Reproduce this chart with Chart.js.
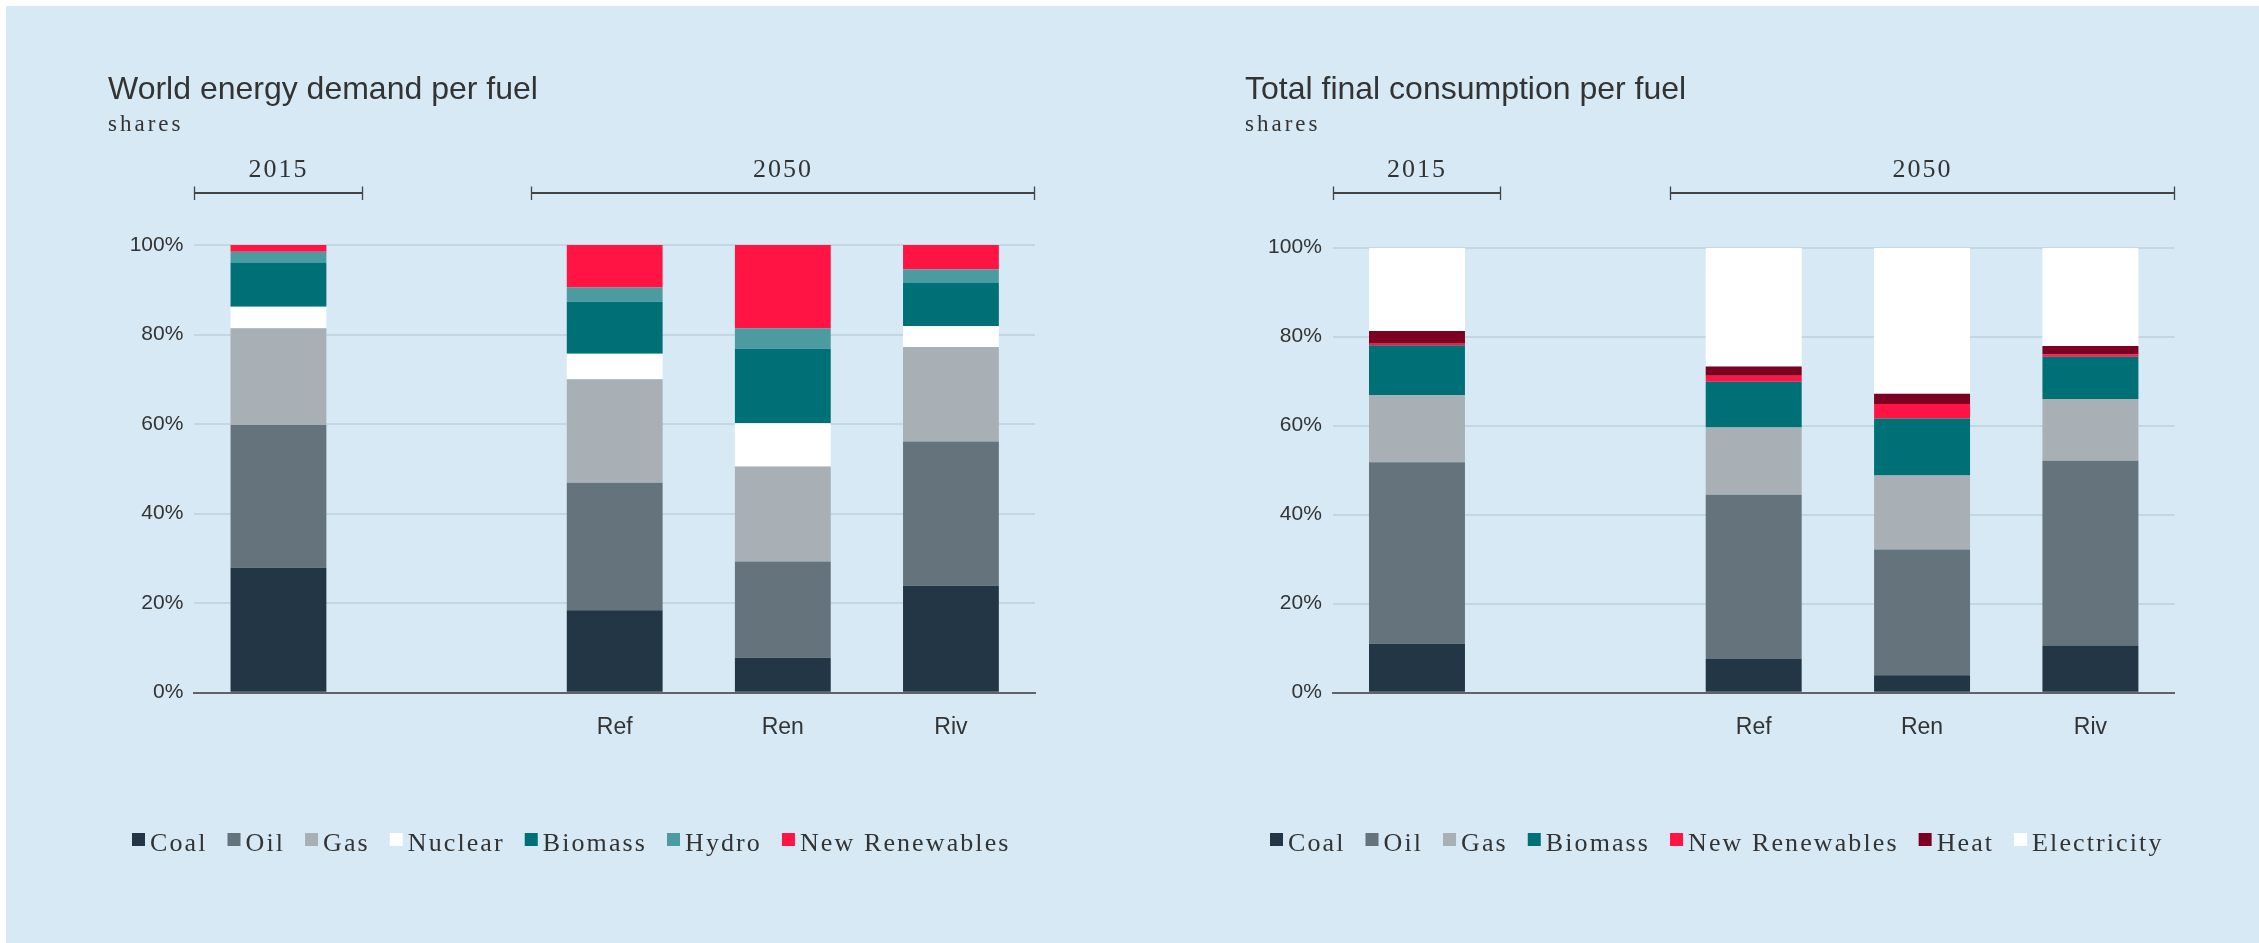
<!DOCTYPE html>
<html>
<head>
<meta charset="utf-8">
<title>World energy demand and total final consumption per fuel</title>
<script src="https://cdn.jsdelivr.net/npm/chart.js@4.4.1/dist/chart.umd.min.js"></script>
<style>
  html, body { margin: 0; padding: 0; background: #fff; }
  body { width: 2259px; height: 943px; position: relative; overflow: hidden; }
  #panel { position: absolute; left: 6px; top: 6px; right: 0; bottom: 0; background: #d6e9f4; }
  .box { position: absolute; top: 0; height: 943px; }
  #leftBox { left: 0; width: 1129px; }
  #rightBox { left: 1129px; width: 1130px; }
</style>
</head>
<body>
<div id="panel"></div>
<div class="box" id="leftBox"><canvas id="demandChart"></canvas></div>
<div class="box" id="rightBox"><canvas id="tfcChart"></canvas></div>
<script>
// x slots: the 2015 bar, an empty gap, then the three 2050 scenarios
var categories = ["2015", "", "Ref", "Ren", "Riv"];
var tickLabels = ["", "", "Ref", "Ren", "Riv"];
var yTicks = [0, 20, 40, 60, 80, 100];
var groupLabels = ["2015", "2050"];
var groupFirst = [0, 2];
var groupLast = [0, 4];

// world energy demand, shares in %
var demandCoal = [27.9, null, 18.4, 7.8, 23.9];
var demandOil = [31.9, null, 28.5, 21.5, 32.2];
var demandGas = [21.6, null, 23.1, 21.2, 21.1];
var demandNuclear = [4.8, null, 5.7, 9.7, 4.7];
var demandBiomass = [9.9, null, 11.6, 16.6, 9.7];
var demandHydro = [2.4, null, 3.2, 4.6, 3.0];
var demandNewRen = [1.5, null, 9.5, 18.6, 5.4];

// total final consumption, shares in %
var tfcCoal = [11.0, null, 7.6, 3.9, 10.6];
var tfcOil = [40.8, null, 36.9, 28.3, 41.5];
var tfcGas = [15.1, null, 15.1, 16.6, 13.9];
var tfcBiomass = [11.2, null, 10.3, 12.8, 9.5];
var tfcNewRen = [0.5, null, 1.3, 3.3, 0.5];
var tfcHeat = [2.7, null, 2.1, 2.3, 1.9];
var tfcElectricity = [18.7, null, 26.7, 32.8, 22.1];

var colors = {
    coal: "#223645",
    oil: "#65737c",
    gas: "#a8afb5",
    nuclear: "#ffffff",
    biomass: "#007077",
    hydro: "#4c9ba0",
    newRen: "#ff1443",
    heat: "#7b0022",
    electricity: "#ffffff",
};

var textColor = "#333333";
var sansFont = "'Liberation Sans', Arial, sans-serif";
var serifFont = "'Liberation Serif', 'Times New Roman', serif";

function ds(label, data, color) {
    return {
        label: label,
        data: data,
        backgroundColor: color,
        borderWidth: 0,
        categoryPercentage: 1,
        barPercentage: 0.57,
    };
}

// titles, year brackets and legend, drawn on the canvas
var textBits = {
    id: "textBits",
    afterDraw: function (chart, args, opts) {
        var ctx = chart.ctx;
        var xs = chart.scales.x;
        var half = (xs.getPixelForValue(1) - xs.getPixelForValue(0)) / 2;
        ctx.save();
        ctx.fillStyle = textColor;
        ctx.textBaseline = "alphabetic";
        ctx.textAlign = "left";

        ctx.font = "32px " + sansFont;
        ctx.fillText(opts.title, opts.textX, 99);
        ctx.font = "23px " + serifFont;
        ctx.letterSpacing = "3px";
        ctx.fillText("shares", opts.textX, 131);

        // year brackets over the bars
        ctx.font = "26px " + serifFont;
        ctx.letterSpacing = "2px";
        ctx.textAlign = "center";
        ctx.strokeStyle = "#444444";
        for (var i = 0; i < groupLabels.length; i++) {
            var x1 = Math.round(xs.getPixelForValue(groupFirst[i]) - half) + 0.5;
            var x2 = Math.round(xs.getPixelForValue(groupLast[i]) + half) - 0.5;
            ctx.lineWidth = 2;
            ctx.beginPath();
            ctx.moveTo(x1, 193);
            ctx.lineTo(x2, 193);
            ctx.stroke();
            ctx.lineWidth = 1.3;
            ctx.beginPath();
            ctx.moveTo(x1, 186.5);
            ctx.lineTo(x1, 200);
            ctx.moveTo(x2, 186.5);
            ctx.lineTo(x2, 200);
            ctx.stroke();
            ctx.fillText(groupLabels[i], (x1 + x2) / 2, 177);
        }

        // legend
        ctx.textAlign = "left";
        ctx.letterSpacing = "2.1px";
        var lx = opts.legendX;
        chart.data.datasets.forEach(function (d) {
            ctx.fillStyle = d.backgroundColor;
            ctx.fillRect(lx, 833, 13, 13);
            ctx.fillStyle = textColor;
            ctx.fillText(d.label, lx + 18, 851);
            lx += 18 + ctx.measureText(d.label).width + 20;
        });
        ctx.restore();
    },
};

function makeChart(canvasId, datasets, geo, title) {
    var ctx = document.getElementById(canvasId).getContext("2d");
    return new Chart(ctx, {
        type: "bar",
        data: { labels: categories, datasets: datasets },
        plugins: [textBits],
        options: {
            responsive: true,
            maintainAspectRatio: false,
            animation: false,
            layout: { padding: { top: geo.top, right: geo.right, left: 0, bottom: 0 } },
            plugins: {
                legend: { display: false },
                tooltip: { enabled: false },
                textBits: { title: title, textX: geo.textX, legendX: geo.legendX },
            },
            scales: {
                x: {
                    stacked: true,
                    grid: { display: false },
                    border: { display: true, color: "#5d6369", width: 2 },
                    ticks: {
                        color: textColor,
                        font: { family: sansFont, size: 23 },
                        padding: 13,
                        callback: function (v, i) {
                            return tickLabels[i];
                        },
                    },
                    afterFit: function (scale) {
                        scale.height = 943 - geo.bottomY;
                    },
                },
                y: {
                    stacked: true,
                    min: 0,
                    max: 100,
                    afterBuildTicks: function (scale) {
                        scale.ticks = yTicks.map(function (v) {
                            return { value: v };
                        });
                    },
                    grid: { color: "#c2d7e4", lineWidth: 2, drawTicks: false },
                    border: { display: false },
                    ticks: {
                        color: textColor,
                        font: { family: sansFont, size: 21 },
                        padding: 11,
                        callback: function (v) {
                            return v + "%";
                        },
                    },
                    afterFit: function (scale) {
                        scale.width = geo.left;
                    },
                },
            },
        },
    });
}

makeChart(
    "demandChart",
    [
        ds("Coal", demandCoal, colors.coal),
        ds("Oil", demandOil, colors.oil),
        ds("Gas", demandGas, colors.gas),
        ds("Nuclear", demandNuclear, colors.nuclear),
        ds("Biomass", demandBiomass, colors.biomass),
        ds("Hydro", demandHydro, colors.hydro),
        ds("New Renewables", demandNewRen, colors.newRen),
    ],
    { left: 194.4, right: 94, top: 245, bottomY: 692.7, textX: 108, legendX: 132 },
    "World energy demand per fuel"
);

makeChart(
    "tfcChart",
    [
        ds("Coal", tfcCoal, colors.coal),
        ds("Oil", tfcOil, colors.oil),
        ds("Gas", tfcGas, colors.gas),
        ds("Biomass", tfcBiomass, colors.biomass),
        ds("New Renewables", tfcNewRen, colors.newRen),
        ds("Heat", tfcHeat, colors.heat),
        ds("Electricity", tfcElectricity, colors.electricity),
    ],
    { left: 203.8, right: 84.4, top: 247.7, bottomY: 692.7, textX: 116, legendX: 141 },
    "Total final consumption per fuel"
);
</script>
</body>
</html>
